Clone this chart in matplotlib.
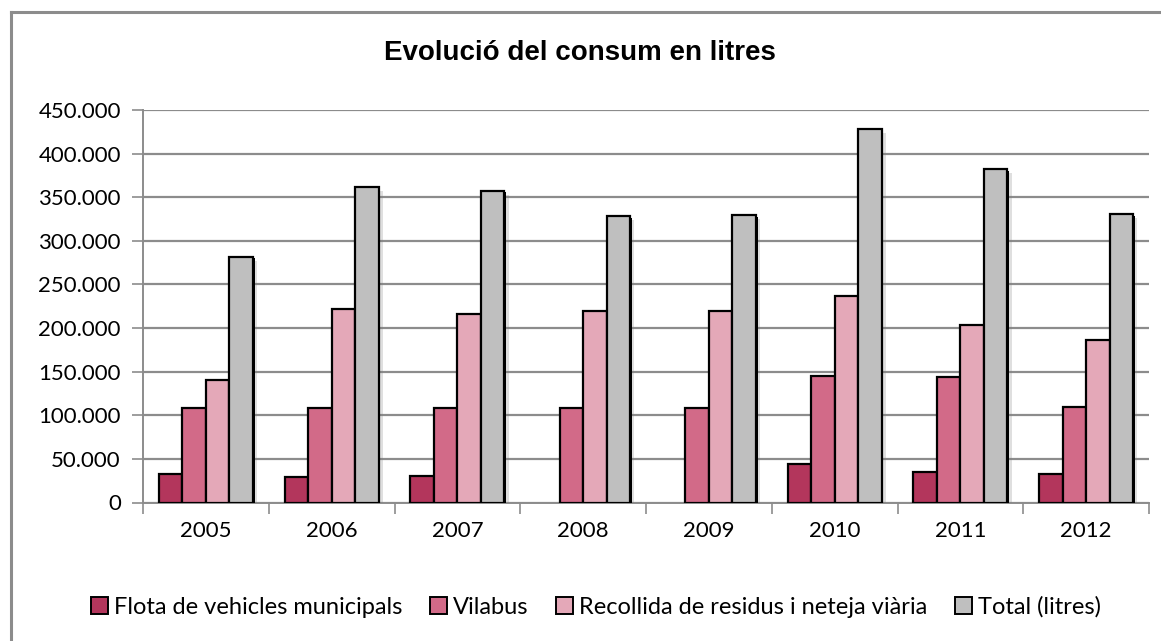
import numpy as np
import matplotlib
matplotlib.use("Agg")
import matplotlib.pyplot as plt
import matplotlib.patheffects as pe
from matplotlib.ticker import FuncFormatter, MultipleLocator
from matplotlib.lines import Line2D

# consum anual en litres per servei
years = ["2005", "2006", "2007", "2008", "2009", "2010", "2011", "2012"]
flota = [32600, 29800, 30500, 0, 0, 44000, 35500, 33200]
vilabus = [108700, 108000, 108100, 108100, 108000, 145400, 143600, 109200]
recollida = [140500, 222200, 216000, 219000, 219000, 236800, 203200, 186700]
total = [281900, 361500, 357300, 328300, 329300, 428000, 382100, 330500]

series = [
    ("Flota de vehicles municipals", flota, "#B3365C"),
    ("Vilabus", vilabus, "#D26A88"),
    ("Recollida de residus i neteja viària", recollida, "#E4A8B8"),
    ("Total (litres)", total, "#BFBFBF"),
]

label_font = "Lato"

fig = plt.figure(figsize=(11.61, 6.41), dpi=100)
ax = fig.add_axes([143 / 1161, 1 - 502.5 / 641, (1149 - 143) / 1161, (502.5 - 110) / 641])

x = np.arange(len(years))
n = len(series)
width = 1 / (n + 1.35)
shadow = [pe.SimplePatchShadow(offset=(3, -3), shadow_rgbFace="grey", alpha=0.25),
          pe.SimplePatchShadow(offset=(1.2, -1.0), shadow_rgbFace="black", alpha=1.0),
          pe.Normal()]
for i, (name, vals, col) in enumerate(series):
    pos = x + (i - (n - 1) / 2) * width
    bars = ax.bar(pos, vals, width, color=col, edgecolor="black", linewidth=1.6,
                  label=name, zorder=3)
    for b, v in zip(bars, vals):
        if v == 0:
            b.set_visible(False)
        else:
            b.set_path_effects(shadow)

ax.set_xlim(-0.5, len(years) - 0.5)
ax.set_ylim(0, 450000)
ax.yaxis.set_major_locator(MultipleLocator(50000))
ax.yaxis.set_major_formatter(FuncFormatter(lambda v, p: f"{int(v):,}".replace(",", ".")))
ax.grid(axis="y", color="#8C8C8C", linewidth=1.6, zorder=0)

ax.set_xticks(np.arange(-0.5, len(years), 1))
ax.set_xticklabels([])
ax.set_xticks(x, minor=True)
ax.set_xticklabels(years, minor=True)
ax.tick_params(axis="x", which="minor", length=0, pad=13, labelsize=16)
ax.tick_params(axis="x", which="major", length=8, color="#8C8C8C", width=1.2)
ax.tick_params(axis="y", length=8, color="#8C8C8C", width=1.2, labelsize=16, pad=8)
for lab in ax.get_xticklabels(minor=True) + ax.get_yticklabels():
    lab.set_fontfamily(label_font)

for s in ["top", "right"]:
    ax.spines[s].set_visible(False)
for s in ["left", "bottom"]:
    ax.spines[s].set_color("#8C8C8C")
    ax.spines[s].set_linewidth(1.4)

fig.text(580 / 1161, 1 - 53 / 641, "Evolució del consum en litres", ha="center", va="center",
         fontsize=20, fontweight="bold", family="Liberation Sans")

leg = fig.legend(loc="center", bbox_to_anchor=(596 / 1161, 1 - 607 / 641), ncol=4,
                 frameon=False, handlelength=0.7, handleheight=0.7, handletextpad=0.25,
                 columnspacing=1.2, prop={"family": label_font, "size": 17})
for h in leg.legend_handles:
    h.set_linewidth(1.4)
    h.set_path_effects([])

# marc exterior del gràfic
border = dict(color="#8C8C8C", linewidth=2.2, transform=fig.transFigure)
fig.add_artist(Line2D([11 / 1161, 1.0], [1 - 12 / 641, 1 - 12 / 641], **border))
fig.add_artist(Line2D([11 / 1161, 11 / 1161], [0, 1 - 12 / 641], **border))

fig.savefig("out.png", dpi=100)
